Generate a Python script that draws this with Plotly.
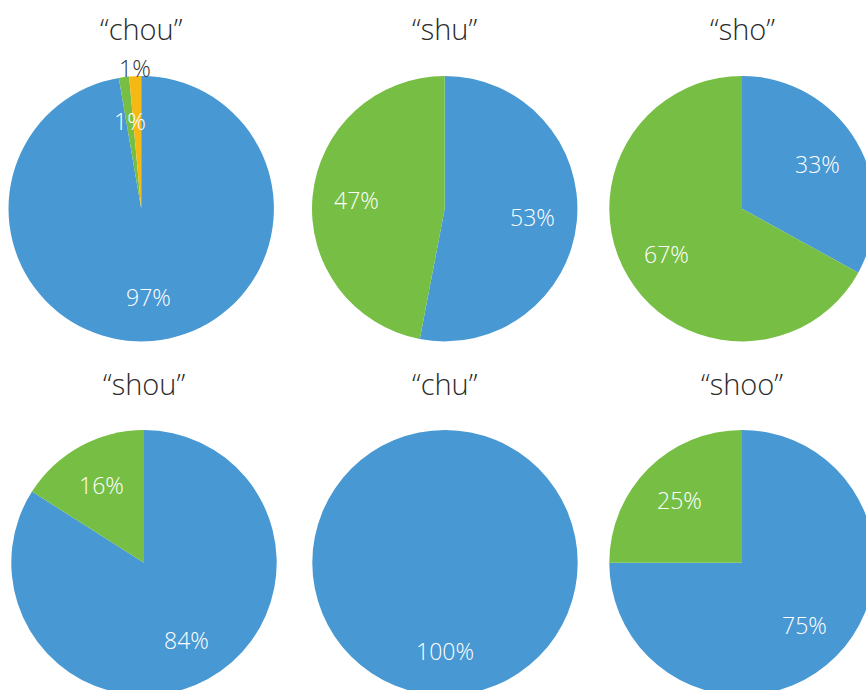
import math
import plotly.graph_objects as go

# Pronunciation shares per spelling (percent of responses)
spellings = ["chou", "shu", "sho", "shou", "chu", "shoo"]
answer_labels = ["Answer 1", "Answer 2", "Answer 3"]
answer1 = [97.3, 53, 33, 84, 100, 75]
answer2 = [1.25, 47, 67, 16, 0, 25]
answer3 = [1.45, 0, 0, 0, 0, 0]

colors = ["#4898D3", "#76BF44", "#F6B914"]

W, H = 880, 700
R = 132.7
centers = [(141.2, 208.7), (444.7, 208.7), (742.0, 208.7),
           (144.0, 562.7), (445.0, 562.7), (742.0, 562.7)]
title_y = [28, 28, 28, 383, 383, 383]
LABEL_R = 0.665
# small slices whose label sits just outside the rim
outside_labels = {(0, 2): 1.065}

FONT = "'Open Sans', Roboto, Arial, sans-serif"

fig = go.Figure()
annotations = []

for i, name in enumerate(spellings):
    vals = [answer1[i], answer2[i], answer3[i]]
    cx, cy = centers[i]
    fig.add_trace(go.Pie(
        labels=answer_labels,
        values=vals,
        sort=False,
        direction="clockwise",
        rotation=0,
        textinfo="none",
        hoverinfo="label+percent",
        marker=dict(colors=colors, line=dict(width=0)),
        showlegend=False,
        domain=dict(x=[(cx - R) / W, (cx + R) / W],
                    y=[1 - (cy + R) / H, 1 - (cy - R) / H]),
    ))

    total = sum(vals)
    cum = 0.0
    for j, v in enumerate(vals):
        if v <= 0:
            continue
        theta = 2 * math.pi * (cum + v / 2) / total
        cum += v
        rho = outside_labels.get((i, j), LABEL_R)
        lx = cx + rho * R * math.sin(theta)
        ly = cy - rho * R * math.cos(theta)
        annotations.append(dict(
            x=lx / W, y=1 - ly / H, xref="paper", yref="paper",
            xanchor="center", yanchor="middle", showarrow=False,
            text=f"{round(v / total * 100)}%",
            font=dict(family=FONT, size=23, weight=300,
                      color="#333333" if rho > 1 else "#ffffff"),
        ))

    annotations.append(dict(
        x=cx / W, y=1 - title_y[i] / H, xref="paper", yref="paper",
        xanchor="center", yanchor="middle", showarrow=False,
        text=f"\u201c{name}\u201d",
        font=dict(family=FONT, size=29, weight=300, color="#2b2b2b"),
    ))

fig.update_layout(
    width=W, height=H,
    margin=dict(l=0, r=0, t=0, b=0),
    paper_bgcolor="#ffffff",
    plot_bgcolor="#ffffff",
    annotations=annotations,
)

fig.write_html("out.html", post_script="document.body.style.overflow='hidden';")
